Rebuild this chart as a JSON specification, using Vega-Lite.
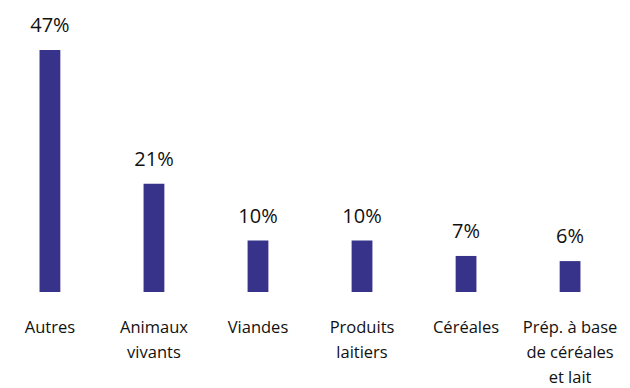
{
  "$schema": "https://vega.github.io/schema/vega-lite/v6.json",
  "autosize": {"type": "none"},
  "padding": {"left": 0, "top": 0, "right": 10, "bottom": 96},
  "width": 620,
  "height": 292,
  "config": {"view": {"stroke": null}, "font": "Open Sans"},
  "data": {"values": [
    {"categorie": "Autres", "part": 0.47},
    {"categorie": "Animaux vivants", "part": 0.21},
    {"categorie": "Viandes", "part": 0.10},
    {"categorie": "Produits laitiers", "part": 0.10},
    {"categorie": "Céréales", "part": 0.07},
    {"categorie": "Prép. à base de céréales et lait", "part": 0.06}
  ]},
  "encoding": {
    "x": {"field": "categorie", "type": "nominal", "sort": null,
      "scale": {"paddingInner": 0.8, "paddingOuter": 0.38},
      "axis": {"title": null, "domain": false, "ticks": false, "labelAngle": 0,
        "labelFontSize": 16.5, "labelColor": "#111111", "labelPadding": 27, "labelLineHeight": 25,
        "labelFont": "Open Sans", "labelLimit": 200,
        "labelExpr": "datum.label == 'Animaux vivants' ? ['Animaux','vivants'] : datum.label == 'Produits laitiers' ? ['Produits','laitiers'] : datum.label == 'Prép. à base de céréales et lait' ? ['Prép. à base','de céréales','et lait'] : datum.label"}},
    "y": {"field": "part", "type": "quantitative", "scale": {"domain": [0, 0.567]}, "axis": null}
  },
  "layer": [
    {"mark": {"type": "bar", "color": "#37328a"}},
    {"mark": {"type": "text", "baseline": "bottom", "dy": -14, "fontSize": 20, "color": "#111111", "font": "Open Sans"},
     "encoding": {"text": {"field": "part", "type": "quantitative", "format": ".0%"}}}
  ]
}
